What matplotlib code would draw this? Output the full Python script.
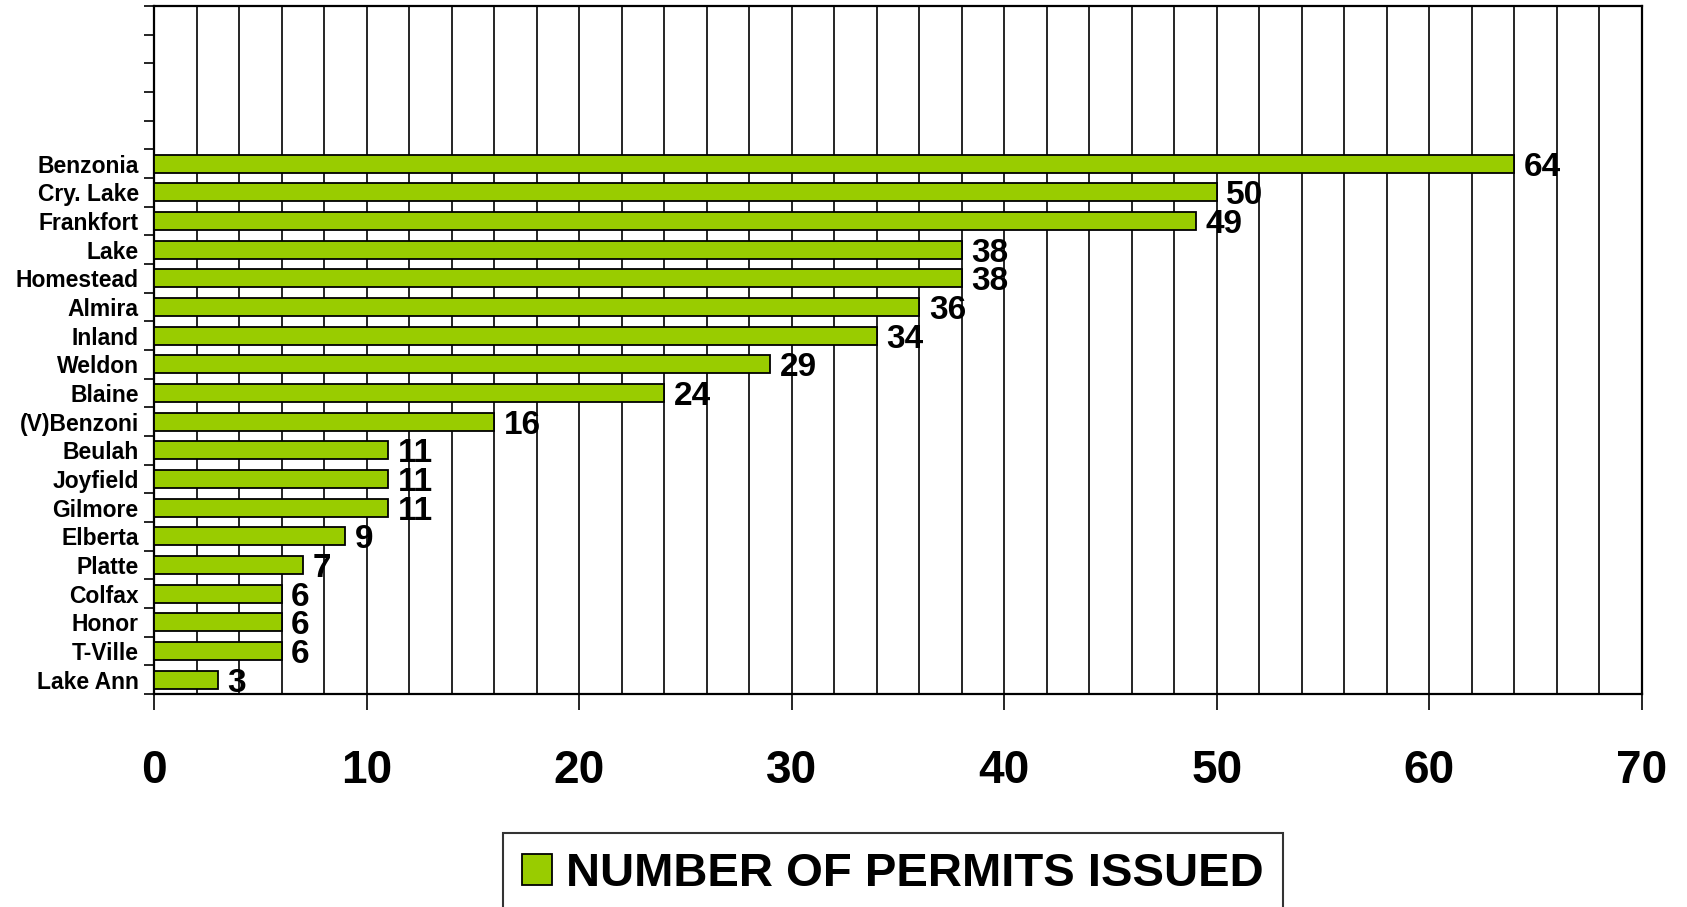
import numpy as np
import matplotlib
matplotlib.use("Agg")
import matplotlib.pyplot as plt
from matplotlib.patches import Patch

plt.rcParams['font.family'] = ['Liberation Sans', 'DejaVu Sans']

categories = ["Benzonia", "Cry. Lake", "Frankfort", "Lake", "Homestead", "Almira",
              "Inland", "Weldon", "Blaine", "(V)Benzoni", "Beulah", "Joyfield",
              "Gilmore", "Elberta", "Platte", "Colfax", "Honor", "T-Ville", "Lake Ann"]
permits = [64, 50, 49, 38, 38, 36, 34, 29, 24, 16, 11, 11, 11, 9, 7, 6, 6, 6, 3]
x_ticks = [0, 10, 20, 30, 40, 50, 60, 70]
series_name = "NUMBER OF PERMITS ISSUED"
empty_rows = 5

bar_color = "#99CC00"

fig = plt.figure(figsize=(16.87, 9.07), dpi=100)
ax = fig.add_axes([154/1687, 1 - 694/907, (1642-154)/1687, (694-6)/907])

n = len(categories)
ypos = np.arange(n)[::-1]  # Benzonia on top
ax.barh(ypos, permits, height=0.62, color=bar_color, edgecolor="black",
        linewidth=1.3, zorder=3)

for y, v in zip(ypos, permits):
    ax.text(v + 0.45, y - 0.12, str(v), ha="left", va="center",
            fontsize=24, fontweight="bold", color="black", zorder=4)

ax.set_xlim(0, 70)
ax.set_ylim(-0.5, n + empty_rows - 0.5)

# x axis
ax.set_xticks(x_ticks)
ax.set_xticklabels([str(t) for t in x_ticks], fontsize=33, fontweight="bold")
ax.set_xticks(np.arange(0, 71, 2), minor=True)
ax.tick_params(axis="x", which="major", direction="out", length=11.5, width=1.2, pad=28)
ax.tick_params(axis="x", which="minor", length=0)
ax.xaxis.grid(True, which="both", color="black", linewidth=1.2, zorder=0)
ax.set_axisbelow(True)

# y axis
ax.set_yticks(np.arange(-0.5, n + empty_rows, 1.0))
ax.set_yticklabels([])
ax.set_yticks(ypos, minor=True)
ax.set_yticklabels(categories, minor=True, fontsize=16.5, fontweight="bold")
ax.tick_params(axis="y", which="major", direction="out", length=7, width=1.2)
ax.tick_params(axis="y", which="minor", length=0, pad=11)

for s in ax.spines.values():
    s.set_linewidth(1.6)
    s.set_color("black")

handle = Patch(facecolor=bar_color, edgecolor="black", linewidth=1.3)
leg = fig.legend([handle], [series_name], loc="upper left",
                 bbox_to_anchor=(503/1687, 1 - 833/907), bbox_transform=fig.transFigure,
                 prop={"size": 34, "weight": "bold"}, frameon=True, fancybox=False,
                 handlelength=0.64, handleheight=0.64, handletextpad=0.3,
                 borderpad=0.4, borderaxespad=0)
leg.get_frame().set_edgecolor("black")
leg.get_frame().set_linewidth(1.5)

fig.savefig("out.png", dpi=100)
